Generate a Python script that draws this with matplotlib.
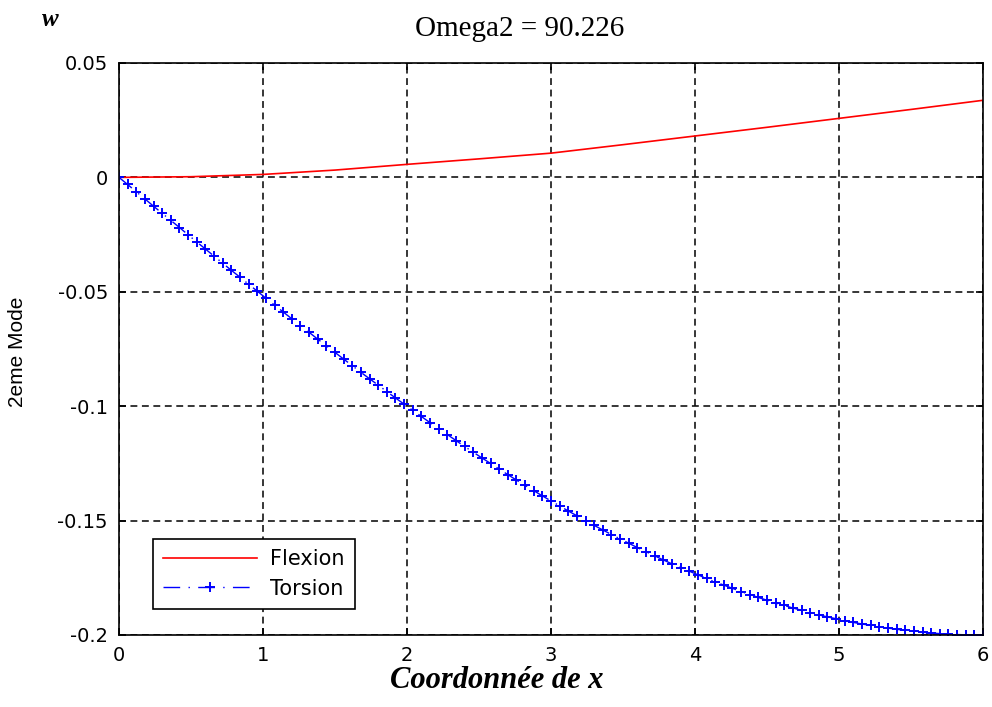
import numpy as np
import matplotlib
matplotlib.use("Agg")
import matplotlib.pyplot as plt

# Flexion (plain red line)
flex_x = [0.0, 0.5, 1.0, 1.5, 2.0, 2.5, 3.0, 3.5, 4.0, 4.5, 5.0, 5.5, 6.0]
flex_y = [0.0, 0.0003, 0.0013, 0.0032, 0.0057, 0.0081, 0.0106, 0.0143,
          0.0181, 0.0219, 0.0258, 0.0297, 0.0337]

# Torsion (blue dash-dot with + markers), 101 samples from 0 to 6
tors_x = np.linspace(0, 6, 101)
tors_y = [0.0, -0.0031, -0.0063, -0.0094, -0.0126, -0.0157, -0.0188, -0.0219,
          -0.0251, -0.0282, -0.0313, -0.0344, -0.0375, -0.0406, -0.0436, -0.0467,
          -0.0497, -0.0528, -0.0558, -0.0588, -0.0618, -0.0648, -0.0677, -0.0707,
          -0.0736, -0.0765, -0.0794, -0.0823, -0.0852, -0.0880, -0.0908, -0.0936,
          -0.0964, -0.0991, -0.1018, -0.1045, -0.1072, -0.1098, -0.1124, -0.1150,
          -0.1176, -0.1201, -0.1226, -0.1250, -0.1275, -0.1299, -0.1323, -0.1346,
          -0.1369, -0.1392, -0.1414, -0.1436, -0.1458, -0.1479, -0.1500, -0.1521,
          -0.1541, -0.1561, -0.1580, -0.1599, -0.1618, -0.1636, -0.1654, -0.1672,
          -0.1689, -0.1705, -0.1721, -0.1737, -0.1753, -0.1768, -0.1782, -0.1796,
          -0.1810, -0.1823, -0.1836, -0.1848, -0.1860, -0.1871, -0.1882, -0.1892,
          -0.1902, -0.1912, -0.1921, -0.1929, -0.1937, -0.1945, -0.1952, -0.1958,
          -0.1965, -0.1970, -0.1975, -0.1980, -0.1984, -0.1988, -0.1991, -0.1994,
          -0.1996, -0.1998, -0.1999, -0.2000, -0.2000]

xticks = [0, 1, 2, 3, 4, 5, 6]
yticks = [-0.2, -0.15, -0.1, -0.05, 0, 0.05]
ytick_labels = ["-0.2", "-0.15", "-0.1", "-0.05", "0", "0.05"]

fig = plt.figure(figsize=(9.92, 7.07), dpi=100)
ax = fig.add_axes([119/992, 1-635/707, (983-119)/992, (635-63)/707])

ax.plot(flex_x, flex_y, color="red", lw=1.2, label="Flexion")
ax.plot(tors_x, tors_y, color="blue", lw=1.0, linestyle=(0, (12, 6, 1, 6)),
        marker="+", markersize=6.5, markeredgewidth=1.4, label="Torsion")

ax.set_xlim(0, 6)
ax.set_ylim(-0.2, 0.05)
ax.set_xticks(xticks)
ax.set_yticks(yticks)
ax.set_yticklabels(ytick_labels)
ax.tick_params(direction="in", length=5, top=True, right=True,
               labelsize=14, pad=8, width=1.2)
for lab in ax.get_xticklabels() + ax.get_yticklabels():
    lab.set_fontfamily("DejaVu Sans")
for s in ax.spines.values():
    s.set_linewidth(1.2)
ax.grid(True, color="black", linestyle=(0, (4.5, 3)), linewidth=1.1)

ax.text((520-119)/864, (635-29)/572, "Omega2 = 90.226", transform=ax.transAxes,
        fontfamily="Liberation Serif", fontsize=21, ha="center", va="center")
ax.set_xlabel("Coordonnée de x", fontfamily="Liberation Serif", fontsize=22,
              fontweight="bold", fontstyle="italic")
ax.xaxis.set_label_coords((497-119)/864, (635-681)/572)
ax.xaxis.label.set_va("center")
ax.set_ylabel("2eme Mode", fontfamily="Liberation Sans", fontsize=15)
ax.yaxis.set_label_coords((18-119)/864, (635-352)/572)
ax.yaxis.label.set_va("center")
fig.text(50/992, 1-19/707, "w", fontfamily="Liberation Serif", fontsize=18,
         fontweight="bold", fontstyle="italic", ha="center", va="center")

leg = ax.legend(loc="lower left", bbox_to_anchor=((153-119)/864, (635-609)/572),
                borderaxespad=0, fancybox=False, edgecolor="black", framealpha=1,
                prop={"family": "DejaVu Sans", "size": 15}, handlelength=4.5,
                handletextpad=0.6, borderpad=0.5, labelspacing=0.45)
leg.get_frame().set_linewidth(1.2)

fig.savefig("out.png", dpi=100)
